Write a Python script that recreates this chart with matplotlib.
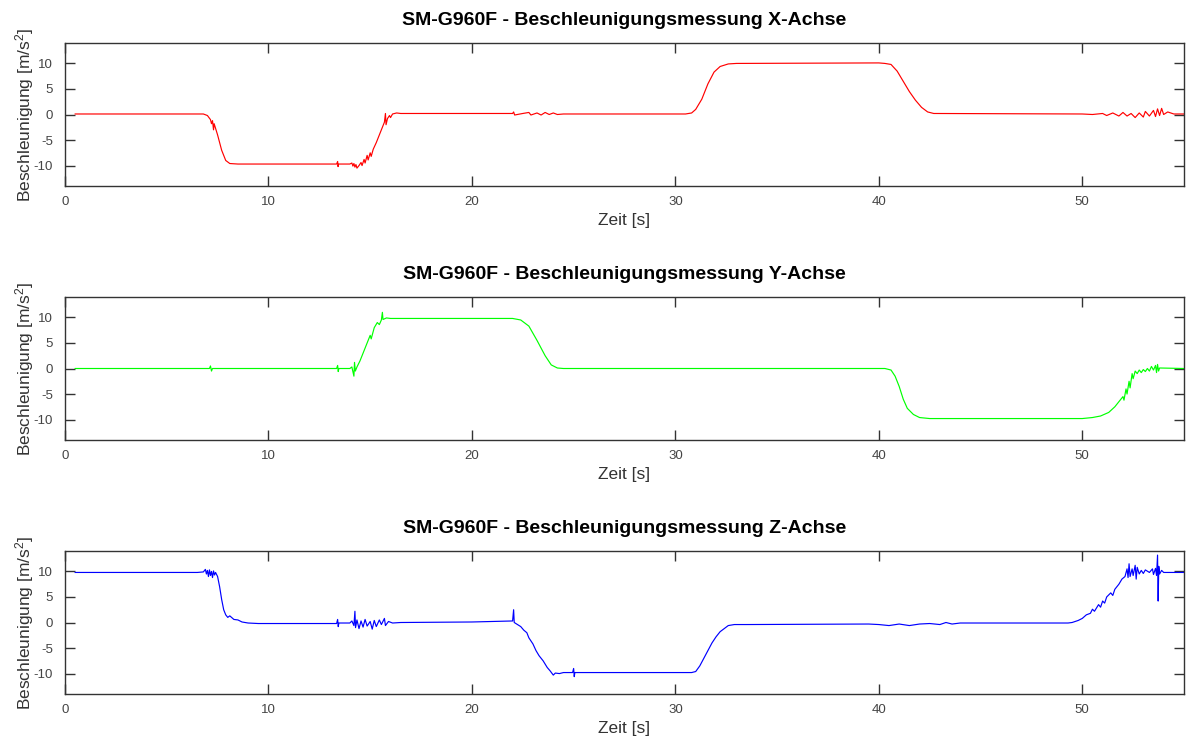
import matplotlib
matplotlib.use("Agg")
import matplotlib.pyplot as plt

# ---------------- data ----------------
titles = ["SM-G960F - Beschleunigungsmessung X-Achse",
          "SM-G960F - Beschleunigungsmessung Y-Achse",
          "SM-G960F - Beschleunigungsmessung Z-Achse"]
x_label = "Zeit [s]"
y_label = "Beschleunigung [m/s$^{\\mathsf{2}}$]"
x_ticks = [0, 10, 20, 30, 40, 50]
y_ticks = [-10, -5, 0, 5, 10]

t_x = [0.5, 6.8, 7.0, 7.15, 7.2, 7.25, 7.3, 7.33, 7.5, 7.7, 7.9, 8.1, 8.5,
       13.35, 13.4, 13.42, 13.45, 14.0, 14.1, 14.15, 14.2, 14.25, 14.3, 14.35,
       14.45, 14.55, 14.6, 14.7, 14.75, 14.85, 14.9, 15.0, 15.05, 15.15, 15.3,
       15.5, 15.7, 15.75, 15.78, 15.85, 15.95, 16.0, 16.1, 16.3, 16.5,
       22.0, 22.05, 22.1, 22.5, 22.8, 22.9, 23.2, 23.4, 23.6, 23.8, 24.0, 24.2,
       24.5, 30.5, 30.8, 31.0, 31.3, 31.6, 31.9, 32.2, 32.6, 33.0,
       40.0, 40.3, 40.6, 40.9, 41.2, 41.5, 41.8, 42.1, 42.4, 42.7,
       50.0, 50.5, 51.0, 51.2, 51.5, 51.8, 52.0, 52.2, 52.4, 52.6, 52.8, 53.0,
       53.1, 53.3, 53.5, 53.6, 53.7, 53.8, 53.9, 54.0, 54.2, 54.5, 55.0]
a_x = [0.1, 0.1, -0.2, -1.0, -1.8, -1.2, -3.0, -1.8, -4.0, -7.0, -9.0, -9.6, -9.7,
       -9.7, -9.2, -10.2, -9.7, -9.7, -9.5, -10.1, -9.6, -10.3, -9.8, -10.5,
       -10.0, -9.4, -10.0, -8.8, -9.5, -8.0, -8.9, -7.5, -8.2, -6.8, -5.5,
       -3.5, -1.5, 0.2, -2.0, -0.8, -0.2, -0.6, 0.1, 0.3, 0.2,
       0.2, 0.5, -0.1, 0.2, 0.4, -0.1, 0.3, -0.1, 0.4, 0.0, 0.3, 0.0,
       0.1, 0.1, 0.3, 1.0, 3.0, 6.0, 8.3, 9.4, 9.9, 10.0,
       10.1, 10.0, 9.8, 8.5, 6.5, 4.5, 2.8, 1.4, 0.5, 0.2,
       0.1, 0.0, 0.2, -0.2, 0.3, -0.3, 0.4, -0.3, 0.2, -0.6, 0.3, -0.5,
       0.6, -0.3, 0.8, -0.4, 1.1, -0.2, 1.2, 0.0, 0.5, 0.1, 0.1]

t_y = [0.5, 7.1, 7.15, 7.2, 7.25, 13.35, 13.4, 13.43, 13.46, 14.0, 14.1, 14.2,
       14.23, 14.27, 14.35, 14.5, 14.7, 14.9, 15.0, 15.05, 15.2, 15.35, 15.45,
       15.55, 15.6, 15.63, 15.8, 16.0, 16.5, 22.0, 22.4, 22.8, 23.2, 23.6, 23.9,
       24.2, 24.5, 40.3, 40.6, 40.8, 41.0, 41.2, 41.4, 41.7, 42.0, 42.5,
       50.0, 50.5, 50.9, 51.3, 51.6, 51.8, 52.0, 52.05, 52.15, 52.2, 52.3, 52.35,
       52.45, 52.5, 52.6, 52.7, 52.8, 52.9, 53.0, 53.1, 53.2, 53.3, 53.4, 53.5,
       53.6, 53.65, 53.7, 53.75, 53.8, 55.0]
a_y = [0.0, 0.0, 0.5, -0.5, 0.0, 0.0, 0.6, -0.6, 0.0, 0.0, 0.3, -1.5,
       1.2, -0.5, 0.3, 1.5, 3.5, 5.5, 6.5, 5.8, 8.0, 9.0, 8.6,
       9.5, 11.0, 9.6, 9.9, 9.8, 9.8, 9.8, 9.5, 8.3, 5.5, 2.5, 0.7,
       0.1, 0.0, 0.0, -0.3, -1.5, -3.5, -6.0, -7.8, -9.0, -9.6, -9.8,
       -9.8, -9.6, -9.3, -8.6, -7.5, -6.5, -5.5, -6.2, -4.0, -5.0, -2.5, -3.8,
       -1.0, -2.0, -0.5, -1.0, -0.3, -0.8, -0.2, -0.6, 0.0, -0.5, 0.4, -0.3,
       0.6, -0.8, 0.8, -0.5, 0.1, 0.0]

t_z = [0.5, 6.5, 6.8, 6.9, 6.95, 7.0, 7.05, 7.1, 7.15, 7.2, 7.25, 7.3, 7.35,
       7.4, 7.5, 7.6, 7.7, 7.8, 7.9, 8.0, 8.1, 8.3, 8.5, 8.7, 9.0, 9.5,
       13.35, 13.4, 13.43, 13.46, 14.0, 14.1, 14.2, 14.25, 14.28, 14.35, 14.45,
       14.55, 14.65, 14.75, 14.85, 15.0, 15.1, 15.2, 15.3, 15.45, 15.55, 15.7,
       15.75, 15.9, 16.1, 16.5, 20.0, 22.0, 22.05, 22.08, 22.2, 22.4, 22.55,
       22.7, 22.8, 23.0, 23.15, 23.3, 23.5, 23.7, 23.85, 24.0, 24.1, 24.3, 24.5,
       24.95, 25.0, 25.03, 25.06, 30.8, 31.0, 31.2, 31.4, 31.6, 31.8, 32.0,
       32.2, 32.4, 32.6, 32.9, 33.5, 39.5, 40.0, 40.5, 41.0, 41.5, 42.0, 42.5,
       43.0, 43.3, 43.6, 44.0, 49.3, 49.5, 49.8, 50.0, 50.2, 50.4, 50.5, 50.6,
       50.8, 50.9, 51.0, 51.1, 51.2, 51.4, 51.5, 51.6, 51.8, 51.95, 52.1, 52.2,
       52.25, 52.3, 52.35, 52.45, 52.5, 52.6, 52.65, 52.7, 52.8, 52.9, 53.0,
       53.1, 53.3, 53.45, 53.5, 53.6, 53.65, 53.7, 53.73, 53.76, 53.8, 53.9,
       54.0, 55.0]
a_z = [9.8, 9.8, 9.9, 10.4, 9.5, 10.2, 9.0, 10.3, 9.2, 10.0, 8.8, 10.1, 9.3,
       9.8, 9.0, 7.0, 4.5, 2.5, 1.5, 1.0, 1.3, 0.6, 0.5, 0.1, -0.1, -0.2,
       -0.2, 0.6, -0.8, -0.1, -0.1, 0.3, -0.6, 2.2, -1.0, 0.5, -1.2,
       0.3, -0.9, 0.6, -0.7, 0.2, -1.3, 0.4, -0.8, 0.5, -0.4, 0.8,
       -0.6, 0.2, -0.1, 0.0, 0.1, 0.3, 2.5, 0.0, -0.3, -0.8, -1.5,
       -2.0, -3.0, -4.2, -5.5, -6.5, -7.5, -8.8, -9.5, -10.3, -9.9, -10.0, -9.8,
       -9.8, -9.0, -10.6, -9.8, -9.8, -9.6, -8.5, -7.0, -5.5, -4.0, -2.8,
       -1.8, -1.2, -0.6, -0.4, -0.4, -0.3, -0.4, -0.6, -0.3, -0.6, -0.3, -0.2,
       -0.4, 0.0, -0.3, -0.1, -0.1, 0.0, 0.4, 0.8, 1.5, 1.8, 2.6, 2.2,
       3.5, 3.0, 4.2, 3.8, 5.0, 5.8, 5.3, 6.5, 7.5, 8.5, 9.0, 10.5,
       8.8, 11.5, 9.0, 10.5, 9.2, 11.2, 8.5, 10.8, 9.5, 10.2, 9.6,
       10.3, 9.8, 10.5, 9.4, 10.6, 9.2, 13.2, 4.2, 11.0, 9.5, 10.2,
       9.8, 9.8]

series = [(t_x, a_x, "#ff0000"), (t_y, a_y, "#00ff00"), (t_z, a_z, "#0000ff")]

# ---------------- figure ----------------
plt.rcParams['font.family'] = ['Liberation Sans', 'DejaVu Sans']
plt.rcParams['axes.unicode_minus'] = False
plt.rcParams['mathtext.fontset'] = 'custom'
plt.rcParams['mathtext.rm'] = 'Liberation Sans'
plt.rcParams['mathtext.sf'] = 'Liberation Sans'
plt.rcParams['mathtext.it'] = 'Liberation Sans'
fig = plt.figure(figsize=(11.87, 7.42), dpi=100)

W, H = 1187.0, 742.0
left_px, right_px = 65, 1184
tops_px = [43, 297, 551]
h_px = 143

for i, ((t, a, col), title) in enumerate(zip(series, titles)):
    top = tops_px[i]
    ax = fig.add_axes([left_px / W, 1 - (top + h_px) / H,
                       (right_px - left_px) / W, h_px / H])
    ax.plot(t, a, color=col, lw=0.85)
    ax.set_xlim(0, 55)
    ax.set_ylim(-14, 14)
    ax.set_xticks(x_ticks)
    ax.set_yticks(y_ticks)
    ax.tick_params(direction='in', length=7, width=1, colors='#333333',
                   labelcolor='#444444', labelsize=9.5, top=True, right=True)
    ax.tick_params(axis='x', pad=7.5)
    ax.tick_params(axis='y', pad=8.5)
    for sp in ax.spines.values():
        sp.set_color('#333333')
        sp.set_linewidth(1.0)
    ax.set_title(title, fontsize=14, fontweight='bold', color='black', pad=13)
    ax.set_xlabel(x_label, fontsize=12.5, color='#333333')
    ax.set_ylabel(y_label, fontsize=12.5, color='#333333')
    ax.xaxis.set_label_coords(0.5, -(213 - 186) / h_px)
    ax.xaxis.label.set_va('top')
    ax.yaxis.set_label_coords(-(65 - 36) / (right_px - left_px), 0.5)

fig.savefig("out.png", dpi=100)
